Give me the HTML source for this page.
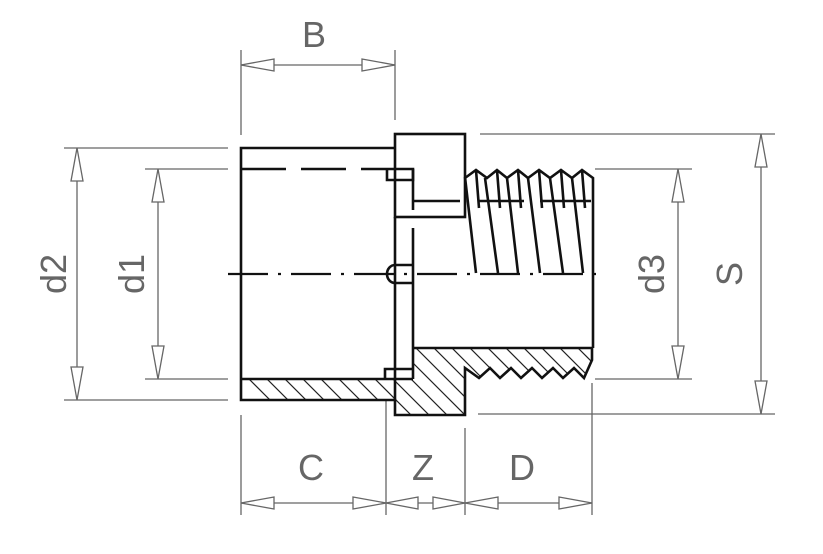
<!DOCTYPE html>
<html><head><meta charset="utf-8"><style>
html,body{margin:0;padding:0;background:#fff;}
svg{display:block}
text{font-family:"Liberation Sans",sans-serif;fill:#666;}
</style></head><body>
<svg width="823" height="554" viewBox="0 0 823 554" xmlns="http://www.w3.org/2000/svg">
<defs>
<clipPath id="hc"><polygon points="241,379 413,379 413,348 592,348 592,360 584,378 574,368 563,378 553,368 542,378 532,368 521,378 511,368 500,378 490,368 479,378 465,368 465,415 395,415 395,400 241,400"/></clipPath>
</defs>
<g stroke="#666" stroke-width="1.3" fill="none">
<line x1="241" y1="50" x2="241" y2="135"/><line x1="395" y1="50" x2="395" y2="120"/>
<line x1="241" y1="65" x2="395" y2="65"/>
<line x1="64" y1="148" x2="228" y2="148"/><line x1="64" y1="400" x2="228" y2="400"/>
<line x1="145" y1="169" x2="228" y2="169"/><line x1="145" y1="379" x2="228" y2="379"/>
<line x1="77" y1="148" x2="77" y2="400"/><line x1="158" y1="169" x2="158" y2="379"/>
<line x1="480" y1="134" x2="775" y2="134"/><line x1="478" y1="414" x2="775" y2="414"/>
<line x1="595" y1="169" x2="692" y2="169"/><line x1="595" y1="379" x2="692" y2="379"/>
<line x1="678" y1="169" x2="678" y2="379"/><line x1="761" y1="134" x2="761" y2="414"/>
<line x1="241" y1="415" x2="241" y2="515"/><line x1="386" y1="400" x2="386" y2="515"/>
<line x1="465" y1="428" x2="465" y2="515"/><line x1="592" y1="383" x2="592" y2="515"/>
<line x1="241" y1="503" x2="592" y2="503"/>
</g>
<g stroke="#666" stroke-width="1.3" fill="#fff">
<polygon points="241,65 274,59 274,71"/><polygon points="395,65 362,59 362,71"/>
<polygon points="77,148 71,181 83,181"/><polygon points="77,400 71,367 83,367"/>
<polygon points="158,169 152,202 164,202"/><polygon points="158,379 152,346 164,346"/>
<polygon points="678,169 672,202 684,202"/><polygon points="678,379 672,346 684,346"/>
<polygon points="761,134 755,167 767,167"/><polygon points="761,414 755,381 767,381"/>
<polygon points="241,503 274,497 274,509"/><polygon points="386,503 353,497 353,509"/>
<polygon points="386,503 418,497 418,509"/><polygon points="465,503 433,497 433,509"/>
<polygon points="465,503 498,497 498,509"/><polygon points="592,503 559,497 559,509"/>
</g>
<g font-size="36">
<text x="314" y="47" text-anchor="middle">B</text>
<text x="311" y="480" text-anchor="middle">C</text>
<text x="423" y="480" text-anchor="middle">Z</text>
<text x="522" y="480" text-anchor="middle">D</text>
<text transform="translate(66,274) rotate(-90)" text-anchor="middle">d2</text>
<text transform="translate(144,274) rotate(-90)" text-anchor="middle">d1</text>
<text transform="translate(664,274) rotate(-90)" text-anchor="middle">d3</text>
<text transform="translate(742,274) rotate(-90)" text-anchor="middle">S</text>
</g>
<g clip-path="url(#hc)" stroke="#222" stroke-width="1.2">
<path d="M200,330 l120,120 M218,330 l120,120 M236,330 l120,120 M254,330 l120,120 M272,330 l120,120 M290,330 l120,120 M308,330 l120,120 M326,330 l120,120 M344,330 l120,120 M362,330 l120,120 M380,330 l120,120 M398,330 l120,120 M416,330 l120,120 M434,330 l120,120 M452,330 l120,120 M470,330 l120,120 M488,330 l120,120 M506,330 l120,120 M524,330 l120,120 M542,330 l120,120 M560,330 l120,120 M578,330 l120,120"/>
</g>
<g stroke="#111" stroke-width="2.6" fill="none">
<polyline points="395,148 241,148 241,400 395,400 395,415 465,415 465,368 479,378 490,368 500,378 511,368 521,378 532,368 542,378 553,368 563,378 574,368 584,378 592,360 592,348 413,348"/>
<rect x="395" y="134" width="70" height="83"/>
<line x1="241" y1="379" x2="413" y2="379"/>
<line x1="395" y1="217" x2="395" y2="400"/>
<line x1="413" y1="169" x2="413" y2="210"/>
<line x1="413" y1="228" x2="413" y2="379"/>
<line x1="413" y1="201" x2="460" y2="201"/>
<polyline points="385,169 413,169 413,180 387,180 387,169"/>
<polyline points="385,379 385,369 413,369"/>
<path d="M413,265 L395,265 A8,9 0 0 0 395,283 L413,283"/>
<polyline points="465,178 476,170 487,178 497,170 507,178 518,170 528,178 539,170 550,178 561,170 572,178 582,170 593,178 593,348"/>
<path d="M476,170 L479,208 M497,170 L500,208 M518,170 L521,208 M539,170 L542,208 M561,170 L564,208 M582,170 L585,208"/>
<path d="M465,177 L476,273 M485,178 L498,273 M507,178 L518,273 M528,178 L540,273 M550,178 L563,273 M572,178 L583,273"/>
<line x1="478" y1="201" x2="524" y2="201"/><line x1="540" y1="201" x2="591" y2="201"/>
</g>
<line x1="241" y1="169" x2="385" y2="169" stroke="#111" stroke-width="2.4" stroke-dasharray="45,15"/>
<line x1="228" y1="274" x2="600" y2="274" stroke="#111" stroke-width="2.2" stroke-dasharray="40,10,3,10"/>
</svg>
</body></html>
